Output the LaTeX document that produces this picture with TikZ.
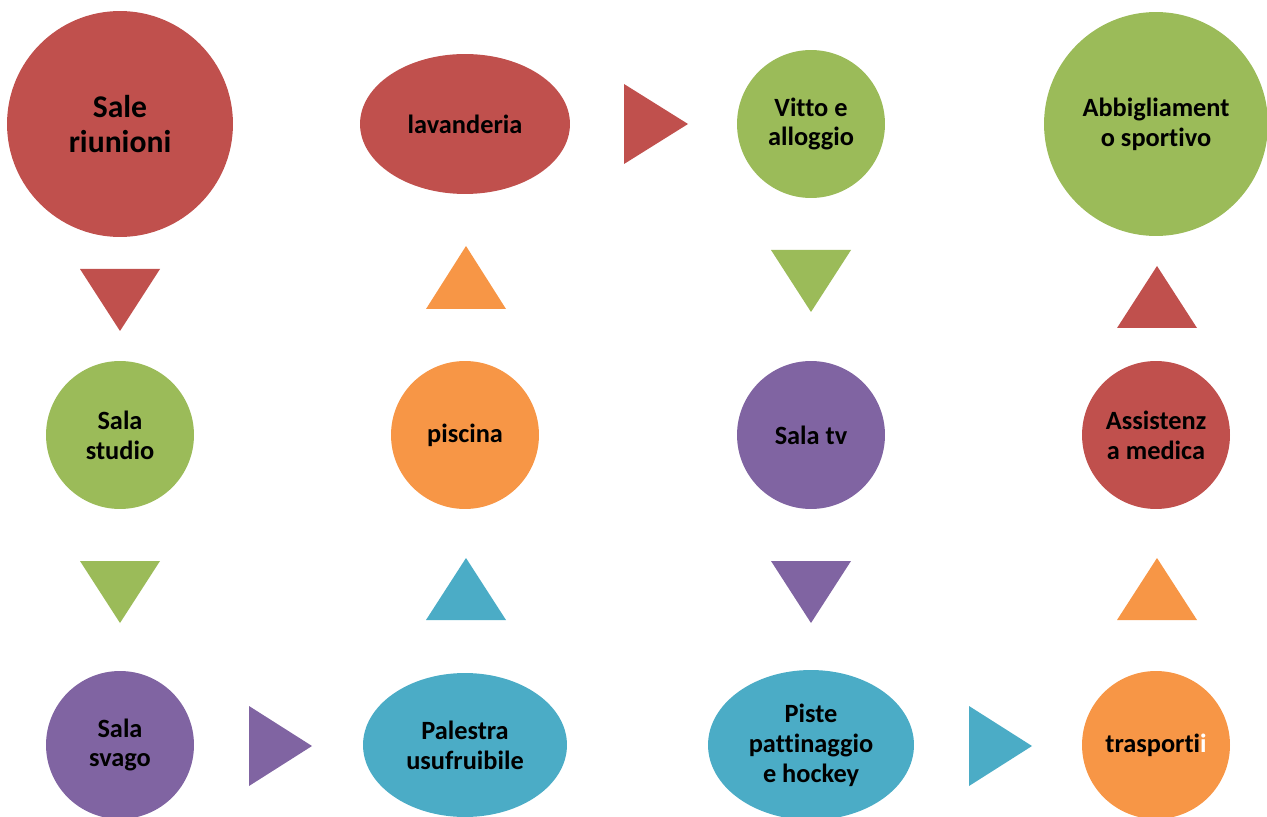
\documentclass[tikz,border=0pt]{standalone}
\usepackage{fontspec}
\setmainfont{Carlito}[Ligatures={NoCommon}]
\usepackage{xcolor}
\usetikzlibrary{shapes.geometric}
\definecolor{rosso}{HTML}{C0504D}
\definecolor{verde}{HTML}{9BBB59}
\definecolor{viola}{HTML}{8064A2}
\definecolor{azzurro}{HTML}{4BACC6}
\definecolor{arancio}{HTML}{F79646}
\tikzset{
  bolla/.style={circle, inner sep=0pt, align=center, font=\fontsize{15}{17}\selectfont\bfseries},
  ovale/.style={ellipse, inner sep=0pt, align=center, font=\fontsize{15}{17}\selectfont\bfseries}
}
\begin{document}
\begin{tikzpicture}[x=0.02cm, y=-0.02cm]
        \useasboundingbox (0,0) rectangle (1267,817);
        %RIGA 1
        \node[bolla, fill=rosso, minimum size=4.52cm, font=\fontsize{18}{19.5}\selectfont\bfseries] (sale) at (120,124) {Sale\\riunioni};
        \node[ovale, fill=rosso, minimum width=4.2cm, minimum height=2.8cm] (lav) at (465,124) {lavanderia};
        \node[bolla, fill=verde, minimum size=2.96cm] (vitto) at (811,124) {Vitto e\\alloggio};
        \node[bolla, fill=verde, minimum size=4.48cm] (abbi) at (1156,124) {Abbigliament\\o sportivo};
        %RIGA 2
        \node[bolla, fill=verde, minimum size=2.96cm] (studio) at (120,435) {Sala\\studio};
        \node[bolla, fill=arancio, minimum size=2.96cm] (pisc) at (465,435) {piscina};
        \node[bolla, fill=viola, minimum size=2.96cm] (tv) at (811,435) {Sala tv};
        \node[bolla, fill=rosso, minimum size=2.96cm] (assi) at (1156,435) {Assistenz\\a medica};
        %RIGA 3
        \node[bolla, fill=viola, minimum size=2.96cm] (svago) at (120,745) {Sala\\svago};
        \node[ovale, fill=azzurro, minimum width=4.08cm, minimum height=2.88cm] (pale) at (465,745) {Palestra\\usufruibile};
        \node[ovale, fill=azzurro, minimum width=4.12cm, minimum height=3cm] (piste) at (811,745) {Piste\\pattinaggio\\e hockey};
        \node[bolla, fill=arancio, minimum size=2.96cm] (trasp) at (1156,745) {trasporti\textcolor{white}{i}};
        %FRECCE ORIZZONTALI
        \fill[rosso] (624,84) -- (624,164) -- (688,124) -- cycle;
        \fill[viola] (249,706) -- (249,786) -- (312,746) -- cycle;
        \fill[azzurro] (969,706) -- (969,786) -- (1032,746) -- cycle;
        %FRECCE IN GIU
        \fill[rosso] (80,269) -- (160,269) -- (120,331) -- cycle;
        \fill[verde] (80,561) -- (160,561) -- (120,623) -- cycle;
        \fill[verde] (771,250) -- (851,250) -- (811,312) -- cycle;
        \fill[viola] (771,561) -- (851,561) -- (811,623) -- cycle;
        %FRECCE IN SU
        \fill[arancio] (426,309) -- (506,309) -- (466,246) -- cycle;
        \fill[azzurro] (426,620) -- (506,620) -- (466,558) -- cycle;
        \fill[rosso] (1117,328) -- (1197,328) -- (1157,266) -- cycle;
        \fill[arancio] (1117,620) -- (1197,620) -- (1157,558) -- cycle;
    \end{tikzpicture}
\end{document}
